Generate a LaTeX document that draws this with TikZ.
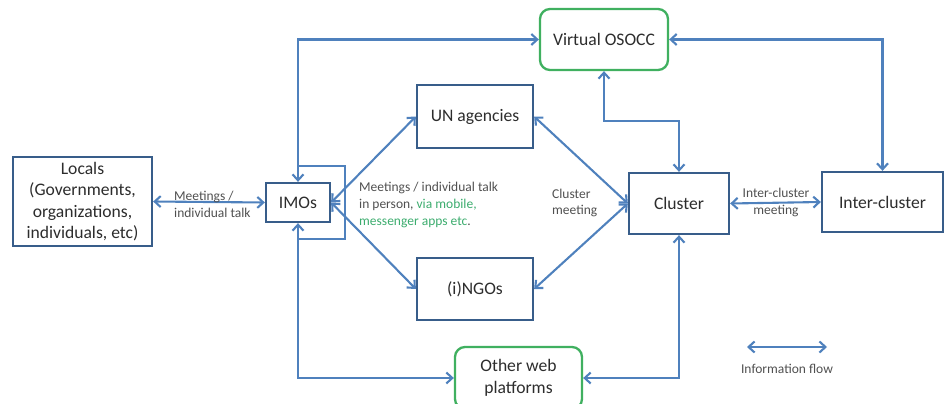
\documentclass[tikz,border=0pt]{standalone}
\usepackage{fontspec}
\setmainfont{Carlito}
\usetikzlibrary{arrows.meta}
\definecolor{flowblue}{RGB}{79,129,189}
\definecolor{boxblue}{RGB}{56,93,138}
\definecolor{webgreen}{RGB}{64,176,96}
\definecolor{txtgray}{RGB}{45,45,45}
\definecolor{lblgray}{RGB}{80,80,80}
\definecolor{notegreen}{RGB}{60,172,110}

\begin{document}
\begin{tikzpicture}[x=1pt,y=-1pt,
  box/.style={draw=boxblue, line width=2.3pt, fill=white, inner sep=0pt,
    text=txtgray, font=\fontsize{17.6}{21.5}\selectfont, align=center},
  webbox/.style={box, draw=webgreen, rounded corners=10pt},
  flow/.style={draw=flowblue, line width=2.1pt,
    {Straight Barb[length=6pt,width=11pt]}-{Straight Barb[length=6pt,width=11pt]}},
  lbl/.style={text=lblgray, font=\fontsize{13.5}{16.8}\selectfont, inner sep=0pt},
]
\useasboundingbox (0,0) rectangle (950,404);

% bracket around the IMOs box
\draw[flowblue, line width=2.1pt] (298,166) -| (345,239) -- (298,239);

% boxes
\node[box, minimum width=139pt, minimum height=89pt] (locals) at (82.5,201.5)
  {Locals\\(Governments,\\organizations,\\individuals, etc)};
\node[box, minimum width=64pt, minimum height=39pt] (imos) at (298,202.5) {IMOs};
\node[box, minimum width=116pt, minimum height=63pt] (un) at (475,116.5) {UN agencies};
\node[box, minimum width=116pt, minimum height=62pt] (ngo) at (475,289) {(i)NGOs};
\node[webbox, minimum width=128pt, minimum height=61pt] (osocc) at (604,39.5) {Virtual OSOCC};
\node[webbox, minimum width=127pt, minimum height=62pt] (other) at (518.5,378)
  {Other web\\platforms};
\node[box, minimum width=100pt, minimum height=61pt] (cluster) at (679,203.5) {Cluster};
\node[box, minimum width=121pt, minimum height=60pt] (inter) at (882.5,202) {Inter-cluster};

% information flows
\draw[flow] (locals.east) -- (imos.west);
\draw[flow] (imos.north) |- (osocc.west);
\draw[flow] (imos.south) |- (other.west);
\draw[flow] (imos.east) -- (un.west);
\draw[flow] (imos.east) -- (ngo.west);
\draw[flow] (un.east) -- (cluster.west);
\draw[flow] (ngo.east) -- (cluster.west);
\coordinate (osoccbend) at (604,121);
\draw[flow] (osocc.south) -- (osoccbend) -| (cluster.north);
\draw[flow] (cluster.south) |- (other.east);
\draw[flow] (inter.north) |- (osocc.east);
\draw[flow] (cluster.east) -- (inter.west);

% labels
\node[lbl, anchor=west, align=left] (lblocal) at (174,204) {Meetings /\\individual talk};
\node[lbl, anchor=west, align=left] (lbnote) at (359,205)
  {Meetings / individual talk\\in person, \textcolor{notegreen}{via mobile,}\\
   \textcolor{notegreen}{messenger apps etc}.};
\node[lbl, anchor=west, align=left] (lbcluster) at (552,203) {Cluster\\meeting};
\node[lbl, align=center] (lbinter) at (776,202.5) {Inter-cluster\\meeting};

% legend
\coordinate (lgA) at (747,347);
\coordinate (lgB) at (827,347);
\draw[flow] (lgA) -- (lgB);
\node[lbl] (lglabel) at (787,369) {Information flow};
\end{tikzpicture}
\end{document}
